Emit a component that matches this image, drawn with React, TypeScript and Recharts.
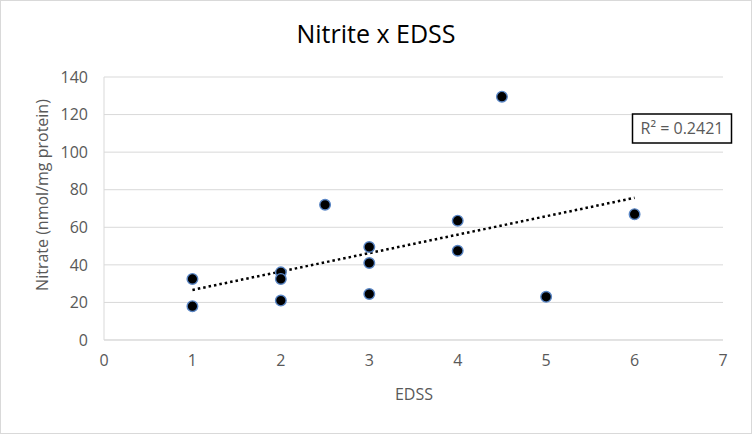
import React from "react";
import {
  ScatterChart,
  Scatter,
  XAxis,
  YAxis,
  CartesianGrid,
  ReferenceLine,
  Customized,
} from "recharts";

const edss = [1, 1, 2, 2, 2, 2.5, 3, 3, 3, 4, 4, 4.5, 5, 6];
const nitrate = [32.5, 18, 36, 32.5, 21, 72, 49.5, 41, 24.5, 63.5, 47.5, 129.5, 23, 67];
const xTicks = [0, 1, 2, 3, 4, 5, 6, 7];
const yTicks = [0, 20, 40, 60, 80, 100, 120, 140];

const FONT = "'Open Sans', 'Noto Sans', sans-serif";
const GREY = "#595959";

const points = edss.map((x, i) => ({ x, y: nitrate[i] }));

// least squares fit for the trendline
function fit(xs: number[], ys: number[]) {
  const n = xs.length;
  const mx = xs.reduce((a, b) => a + b, 0) / n;
  const my = ys.reduce((a, b) => a + b, 0) / n;
  let sxy = 0;
  let sxx = 0;
  xs.forEach((x, i) => {
    sxy += (x - mx) * (ys[i] - my);
    sxx += (x - mx) * (x - mx);
  });
  const slope = sxy / sxx;
  return { slope, intercept: my - slope * mx };
}

const { slope, intercept } = fit(edss, nitrate);
const xMin = Math.min(...edss);
const xMax = Math.max(...edss);
const trend = [
  { x: xMin, y: intercept + slope * xMin },
  { x: xMax, y: intercept + slope * xMax },
];

const Dot = (props: any) => {
  const { cx, cy } = props;
  return <circle cx={cx} cy={cy} r={5.3} fill="#000" stroke="#5a86c5" strokeWidth={1.4} />;
};

const Labels = () => (
  <g fontFamily={FONT}>
    <text x={375} y={42} textAnchor="middle" fontSize={25} fill="#000">
      Nitrite x EDSS
    </text>
    <text
      x={41}
      y={194}
      textAnchor="middle"
      dominantBaseline="central"
      fontSize={16}
      fill={GREY}
      transform="rotate(-90 41 194)"
    >
      Nitrate (nmol/mg protein)
    </text>
    <text x={413} y={399} textAnchor="middle" fontSize={16} fill={GREY}>
      EDSS
    </text>
    <rect x={631.5} y={113} width={99} height={29} fill="#fff" stroke="#000" strokeWidth={1.5} />
    <text x={681} y={133} textAnchor="middle" fontSize={16} fill={GREY}>
      R² = 0.2421
    </text>
  </g>
);

export default function App() {
  return (
    <div
      style={{
        position: "absolute",
        left: 0,
        top: 0,
        width: 752,
        height: 434,
        boxSizing: "border-box",
        border: "1px solid #d9d9d9",
        background: "#fff",
      }}
    >
      <ScatterChart
        width={750}
        height={432}
        margin={{ top: 76, right: 28, left: 43, bottom: 53 }}
      >
        <CartesianGrid vertical={false} stroke="#d9d9d9" />
        <XAxis
          type="number"
          dataKey="x"
          domain={[0, 7]}
          ticks={xTicks}
          height={40}
          axisLine={{ stroke: "#d9d9d9" }}
          tickLine={false}
          tickSize={0}
          tickMargin={15}
          tick={{ fill: GREY, fontSize: 16, fontFamily: FONT }}
        />
        <YAxis
          type="number"
          dataKey="y"
          domain={[0, 140]}
          ticks={yTicks}
          width={60}
          axisLine={{ stroke: "#d9d9d9" }}
          tickLine={false}
          tickSize={0}
          tickMargin={16}
          tick={{ fill: GREY, fontSize: 16, fontFamily: FONT }}
        />
        <ReferenceLine
          segment={trend}
          stroke="#000"
          strokeWidth={2.5}
          strokeDasharray="2.5 3"
        />
        <Scatter data={points} shape={<Dot />} isAnimationActive={false} />
        <Customized component={Labels} />
      </ScatterChart>
    </div>
  );
}
